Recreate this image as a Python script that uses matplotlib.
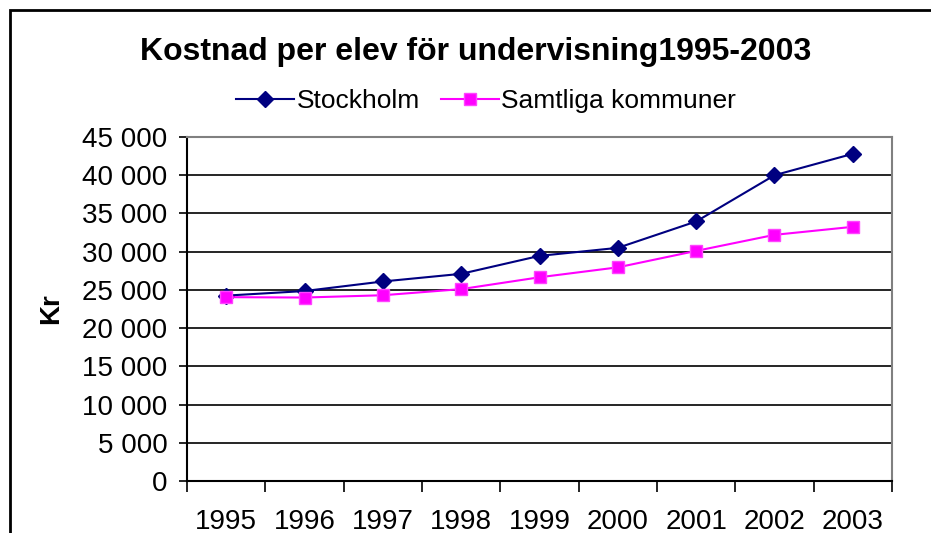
import matplotlib
matplotlib.use("Agg")
import matplotlib.pyplot as plt
from matplotlib.patches import Rectangle
from matplotlib.ticker import FuncFormatter

plt.rcParams["font.family"] = ["Liberation Sans", "DejaVu Sans"]

years = ["1995", "1996", "1997", "1998", "1999", "2000", "2001", "2002", "2003"]
stockholm = [24250, 24850, 26100, 27100, 29450, 30500, 33950, 40000, 42800]
samtliga = [24050, 24000, 24300, 25100, 26650, 27950, 30100, 32200, 33250]

fig = plt.figure(figsize=(9.31, 5.33), dpi=100)
ax = fig.add_axes([187 / 931, 1 - 481 / 533, (892 - 187) / 931, (481 - 137) / 533])

x = list(range(len(years)))
ax.plot(x, stockholm, color="#000080", marker="D", ms=8.5, lw=1.5, label="Stockholm")
ax.plot(x, samtliga, color="#FF00FF", marker="s", ms=8.5, lw=1.5,
        mfc="#FF00FF", mec="#FF44FF", label="Samtliga kommuner")

ax.set_xlim(-0.5, len(years) - 0.5)
ax.set_ylim(0, 45000)
ax.set_yticks(range(0, 45001, 5000))
ax.yaxis.set_major_formatter(FuncFormatter(lambda v, p: f"{int(v):,}".replace(",", " ")))
ax.set_xticks([i - 0.5 for i in range(len(years) + 1)])
ax.set_xticklabels([])
ax.set_xticks(x, minor=True)
ax.set_xticklabels(years, minor=True)
ax.tick_params(axis="x", which="minor", length=0, pad=20, labelsize=20)
ax.tick_params(axis="x", which="major", length=8, width=1.2, direction="out", color="black")
ax.tick_params(axis="y", length=6, width=1.2, labelsize=20, pad=8)
ax.grid(axis="y", color="black", lw=1.2)
ax.set_axisbelow(True)
for s in ("top", "right"):
    ax.spines[s].set_color("gray")
    ax.spines[s].set_linewidth(1.5)
for s in ("left", "bottom"):
    ax.spines[s].set_color("black")
    ax.spines[s].set_linewidth(1.5)

ax.set_ylabel("Kr", fontsize=20, fontweight="bold", labelpad=13)
fig.text(0.511, 1 - 52 / 533, "Kostnad per elev för undervisning1995-2003",
         ha="center", va="center", fontsize=23, fontweight="bold")
fig.legend(loc="center", bbox_to_anchor=(0.522, 1 - 101 / 533), ncol=2, frameon=False,
           fontsize=19, handlelength=2.2, columnspacing=0.8, handletextpad=0.1)

fig.patches.append(Rectangle((10 / 931, -0.1), 1.0, 1 - 10 / 533 + 0.1,
                             transform=fig.transFigure, fill=False,
                             edgecolor="black", lw=2))
plt.savefig("out.png", dpi=100)
